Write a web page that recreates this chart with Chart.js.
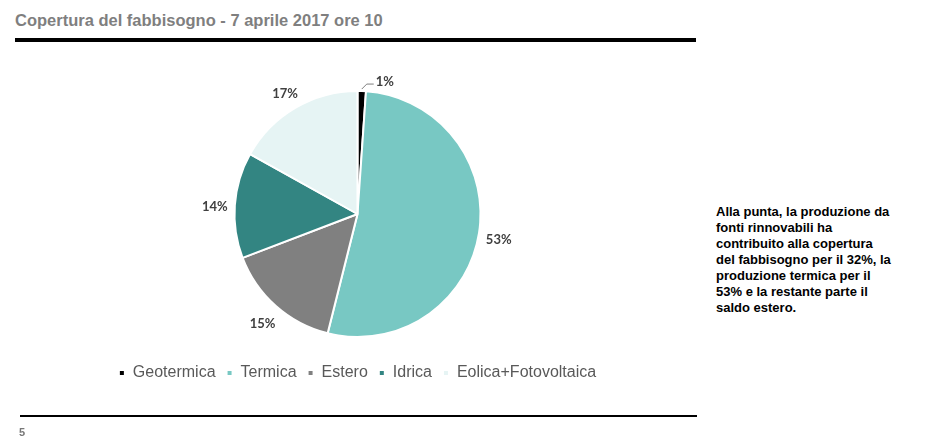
<!DOCTYPE html>
<html>
<head>
<meta charset="utf-8">
<script src="https://cdn.jsdelivr.net/npm/chart.js@4"></script>
<style>
  body { margin: 0; background: #fff; width: 925px; height: 445px; overflow: hidden; position: relative; font-family: "Liberation Sans", Arial, sans-serif; }
  #title { position: absolute; left: 15px; top: 11px; font-size: 16.5px; font-weight: bold; color: #7f7f7f; white-space: nowrap; }
  #topline { position: absolute; left: 15px; top: 38px; width: 681px; height: 4px; background: #000; }
  #bottomline { position: absolute; left: 20px; top: 415px; width: 677px; height: 2px; background: #000; }
  #page { position: absolute; left: 19px; top: 426px; font-size: 11px; font-weight: bold; color: #777; }
  #note { position: absolute; left: 716px; top: 204px; font-size: 13px; line-height: 16px; font-weight: bold; color: #000; white-space: nowrap; }
  #wrap { position: absolute; left: 0; top: 0; width: 715px; height: 445px; }
</style>
</head>
<body>
<div id="title">Copertura del fabbisogno - 7 aprile 2017 ore 10</div>
<div id="topline"></div>
<div id="wrap"><canvas id="myChart"></canvas></div>
<div id="note">Alla punta, la produzione da<br>fonti rinnovabili ha<br>contribuito alla copertura<br>del fabbisogno per il 32%, la<br>produzione termica per il<br>53% e la restante parte il<br>saldo estero.</div>
<div id="bottomline"></div>
<div id="page">5</div>
<script>
var categories = ['Geotermica', 'Termica', 'Estero', 'Idrica', 'Eolica+Fotovoltaica'];
var shares = [1.1, 52.8, 15.3, 13.9, 16.9];
var sliceLabels = ['1%', '53%', '15%', '14%', '17%'];
var colors = ['#000000', '#78c8c3', '#808080', '#338582', '#e6f4f4'];

// draws the percent labels outside the slices
var outsideLabels = {
    id: 'outsideLabels',
    afterDatasetsDraw: function (chart) {
        var ctx = chart.ctx;
        var arcs = chart.getDatasetMeta(0).data;
        ctx.save();
        ctx.font = 'bold 13px Lato, "Open Sans", sans-serif';
        ctx.fillStyle = '#404040';
        ctx.textBaseline = 'middle';
        arcs.forEach(function (arc, i) {
            var p = arc.getProps(['x', 'y', 'startAngle', 'endAngle', 'outerRadius'], true);
            var mid = (p.startAngle + p.endAngle) / 2;
            if (shares[i] < 3) {
                var x0 = p.x + Math.cos(mid) * p.outerRadius;
                var y0 = p.y + Math.sin(mid) * p.outerRadius;
                ctx.strokeStyle = '#7f7f7f';
                ctx.lineWidth = 1;
                ctx.beginPath();
                ctx.moveTo(x0, y0 - 2);
                ctx.lineTo(x0 + 5, y0 - 7);
                ctx.lineTo(x0 + 12, y0 - 7);
                ctx.stroke();
                ctx.textAlign = 'left';
                ctx.fillText(sliceLabels[i], x0 + 14, y0 - 9);
            } else {
                var r = p.outerRadius + 20;
                ctx.textAlign = 'center';
                ctx.fillText(sliceLabels[i], p.x + Math.cos(mid) * r, p.y + Math.sin(mid) * r + 3);
            }
        });
        ctx.restore();
    }
};

var ctx = document.getElementById('myChart');

var data = {
    labels: categories,
    datasets: [
        {
            data: shares,
            backgroundColor: colors,
            borderColor: '#ffffff',
            borderWidth: 2,
            radius: 123
        }]
};

var chart = new Chart(ctx, {
    type: 'pie',
    data: data,
    plugins: [outsideLabels],
    options: {
        responsive: true,
        maintainAspectRatio: false,
        animation: false,
        layout: { padding: { top: 74, bottom: 54, left: 0, right: 0 } },
        plugins: {
            tooltip: { enabled: false },
            legend: {
                position: 'bottom',
                labels: {
                    boxWidth: 6,
                    boxHeight: 6,
                    padding: 11,
                    color: '#595959',
                    font: { family: '"Liberation Sans", Arial, sans-serif', size: 16 }
                }
            }
        }
    }
});
</script>
</body>
</html>
